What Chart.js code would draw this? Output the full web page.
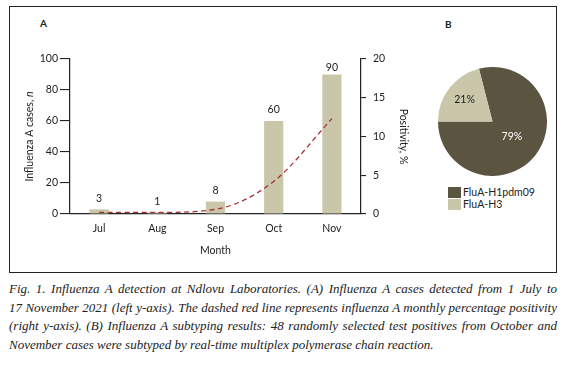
<!DOCTYPE html>
<html><head><meta charset="utf-8">
<script src="https://cdn.jsdelivr.net/npm/chart.js@4/dist/chart.umd.min.js"></script>
<style>
html,body{margin:0;padding:0;background:#fff;}
body{width:573px;height:365px;position:relative;overflow:hidden;font-family:Lato,"Open Sans",sans-serif;color:#222;}
#box{position:absolute;left:9px;top:6px;width:548px;height:267px;box-sizing:border-box;border:1.5px solid #222;}
.panel{position:absolute;font-weight:bold;font-size:10px;}
#cA{position:absolute;left:9px;top:6px;}
#cB{position:absolute;left:438px;top:67px;}
#legend{position:absolute;left:448px;top:187px;font-size:10.5px;}
.li{height:11.5px;position:relative;}
.sw{position:absolute;left:0;top:0;width:13px;height:11px;}
.lt{position:absolute;left:15px;top:0;line-height:11px;white-space:nowrap;}
#cap{position:absolute;left:9px;top:280px;width:548px;font-family:"Liberation Serif",serif;font-style:italic;font-size:13px;line-height:18.7px;color:#222;}
#cap div{white-space:nowrap;text-align:justify;text-align-last:justify;}
#cap div.last{text-align-last:left;}
</style></head>
<body>
<div id="box"></div>
<div class="panel" style="left:40px;top:17px;">A</div>
<div class="panel" style="left:445px;top:18px;">B</div>
<canvas id="cA" width="420" height="267" style="width:420px;height:267px"></canvas>
<canvas id="cB" width="109" height="109" style="width:109px;height:109px"></canvas>
<div id="legend"></div>
<div id="cap">
<div>Fig. 1. Influenza A detection at Ndlovu Laboratories. (A) Influenza A cases detected from 1 July to</div>
<div>17 November 2021 (left y-axis). The dashed red line represents influenza A monthly percentage positivity</div>
<div>(right y-axis). (B) Influenza A subtyping results: 48 randomly selected test positives from October and</div>
<div class="last">November cases were subtyped by real-time multiplex polymerase chain reaction.</div>
</div>
<script>
const months = ['Jul','Aug','Sep','Oct','Nov'];
const cases = [3, 1, 8, 60, 90];
const positivity = [0.2, 0.2, 0.6, 4.2, 12.3];
const leftTicks = [0, 20, 40, 60, 80, 100];
const rightTicks = [0, 5, 10, 15, 20];
const subtypes = ['FluA-H1pdm09', 'FluA-H3'];
const subtypeShares = [79, 21];

const FONT = 'Lato, "Open Sans", sans-serif';
const INK = '#222';
const barColor = '#c9c6aa';
const lineColor = '#a8323a';
const pieColors = ['#5b5441', '#c9c6aa'];

const barLabels = {
  id: 'barLabels',
  afterDatasetsDraw(chart) {
    const ctx = chart.ctx;
    const meta = chart.getDatasetMeta(1);
    ctx.save();
    ctx.font = '10.5px ' + FONT;
    ctx.fillStyle = INK;
    ctx.textAlign = 'center';
    ctx.textBaseline = 'middle';
    meta.data.forEach((el, i) => {
      const y = Math.max(el.y - 11, chart.chartArea.top + 9);
      ctx.fillText(String(cases[i]), el.x, y);
    });
    ctx.restore();
  }
};

// left axis title with an italic "n"
const leftTitle = {
  id: 'leftTitle',
  afterDraw(chart) {
    const ctx = chart.ctx;
    const s = chart.scales.y;
    const a = 'Influenza A cases, ';
    const b = 'n';
    ctx.save();
    ctx.fillStyle = INK;
    ctx.font = '10.5px ' + FONT;
    const wa = ctx.measureText(a).width;
    ctx.font = 'italic 10.5px ' + FONT;
    const wb = ctx.measureText(b).width;
    const cx = s.left + 11.3;
    const cy = (chart.chartArea.top + chart.chartArea.bottom) / 2;
    ctx.translate(cx, cy);
    ctx.rotate(-Math.PI / 2);
    ctx.textBaseline = 'middle';
    ctx.textAlign = 'left';
    const x0 = -(wa + wb) / 2;
    ctx.font = '10.5px ' + FONT;
    ctx.fillText(a, x0, 0);
    ctx.font = 'italic 10.5px ' + FONT;
    ctx.fillText(b, x0 + wa, 0);
    ctx.restore();
  }
};

new Chart(document.getElementById('cA'), {
  data: {
    labels: months,
    datasets: [
      {type: 'line', label: 'Positivity', data: positivity, yAxisID: 'y1', order: 0,
       borderColor: lineColor, borderWidth: 1.3, borderDash: [5, 3.5], pointRadius: 0,
       fill: false, cubicInterpolationMode: 'monotone'},
      {type: 'bar', label: 'Cases', data: cases, yAxisID: 'y', order: 1,
       backgroundColor: barColor, borderWidth: 0, categoryPercentage: 1, barPercentage: 0.33}
    ]
  },
  options: {
    responsive: false, animation: false,
    layout: {padding: {left: 9, right: 15, top: 53, bottom: 12}},
    plugins: {legend: {display: false}, tooltip: {enabled: false}},
    scales: {
      x: {
        grid: {display: false, drawTicks: false},
        border: {display: true, color: INK, width: 1.2},
        ticks: {padding: 8, color: INK, font: {family: FONT, size: 10.5}},
        title: {display: true, text: 'Month', color: INK, font: {family: FONT, size: 10.5}, padding: {top: 4, bottom: 4}},
        afterFit(s) { s.height = 47; }
      },
      y: {
        position: 'left', min: 0, max: 100,
        afterBuildTicks(s) { s.ticks = leftTicks.map(v => ({value: v})); },
        ticks: {padding: 2, color: INK, font: {family: FONT, size: 10.5}},
        grid: {drawOnChartArea: false, tickLength: 10, color: INK, lineWidth: 1.1},
        border: {display: true, color: INK, width: 1.2},
        title: {display: false},
        afterFit(s) { s.width = 52; }
      },
      y1: {
        position: 'right', min: 0, max: 20,
        afterBuildTicks(s) { s.ticks = rightTicks.map(v => ({value: v})); },
        ticks: {padding: 7, color: INK, font: {family: FONT, size: 10.5}},
        grid: {drawOnChartArea: false, tickLength: 5, color: INK, lineWidth: 1.1},
        border: {display: true, color: INK, width: 1.2},
        title: {display: true, text: 'Positivity, %', color: INK, font: {family: FONT, size: 10.5}, padding: {top: 4, bottom: 4}},
        afterFit(s) { s.width = 53; }
      }
    }
  },
  plugins: [barLabels, leftTitle]
});

const pieLabels = {
  id: 'pieLabels',
  afterDatasetsDraw(chart) {
    const ctx = chart.ctx;
    const meta = chart.getDatasetMeta(0);
    const factors = [0.45, 0.65];
    const colors = ['#ffffff', INK];
    ctx.save();
    ctx.font = '10.5px ' + FONT;
    ctx.textAlign = 'center';
    ctx.textBaseline = 'middle';
    meta.data.forEach((el, i) => {
      const mid = (el.startAngle + el.endAngle) / 2;
      const r = el.outerRadius * factors[i];
      ctx.fillStyle = colors[i];
      ctx.fillText(subtypeShares[i] + '%', el.x + Math.cos(mid) * r, el.y + Math.sin(mid) * r);
    });
    ctx.restore();
  }
};

new Chart(document.getElementById('cB'), {
  type: 'pie',
  data: {labels: subtypes, datasets: [{data: subtypeShares, backgroundColor: pieColors, borderWidth: 0}]},
  options: {
    responsive: false, animation: false, rotation: -14.4,
    layout: {padding: 0},
    plugins: {legend: {display: false}, tooltip: {enabled: false}}
  },
  plugins: [pieLabels]
});

const lg = document.getElementById('legend');
subtypes.forEach((name, i) => {
  const row = document.createElement('div');
  row.className = 'li';
  row.innerHTML = '<span class="sw" style="background:' + pieColors[i] + '"></span><span class="lt">' + name + '</span>';
  lg.appendChild(row);
});
</script>
</body></html>
